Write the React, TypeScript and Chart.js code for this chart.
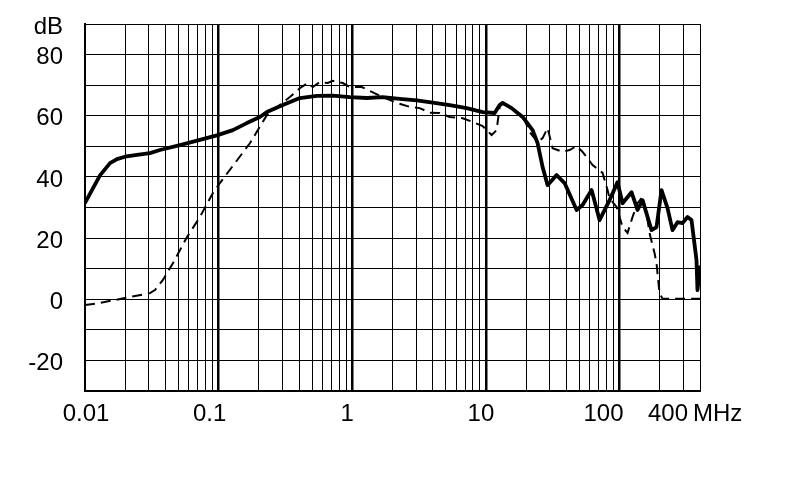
import React, { useEffect, useRef } from 'react';
import { Chart, registerables } from 'chart.js';

Chart.register(...registerables);

// Frequency axis (MHz, logarithmic)
const xMin = 0.01;
const xMax = 400;
const xLabelValues = [0.01, 0.1, 1, 10, 100, 400];
const xLabelTexts = ['0.01', '0.1', '1', '10', '100', '400'];
const xUnit = 'MHz';

// Level axis (dB)
const yMin = -30;
const yMax = 90;
const yGridStep = 10;
const yLabelStep = 20;
const yUnit = 'dB';

// Solid curve
const solidFreq = [
  0.01, 0.01295, 0.01538, 0.01735, 0.0199, 0.02448, 0.03062, 0.03637, 0.05131, 0.0724,
  0.097, 0.1278, 0.1626, 0.2034, 0.2295, 0.3023, 0.405, 0.5429, 0.7149, 0.9579,
  1.284, 1.69, 2.265, 3.035, 3.998, 5.358, 7.181, 9.456, 11.63, 12.67,
  13.34, 15.58, 18.83, 22.36, 24.38, 26.57, 28.95, 33.81, 38.8, 47.72,
  52.89, 61.78, 70.88, 84.19, 96.6, 105.3, 122.9, 136.3, 148.6, 173.5,
  189.1, 206.1, 228.6, 249.1, 271.5, 295.8, 322.5, 345.4, 376.5, 383,
  400,
];
const solidDb = [
  31.5, 40.5, 44.5, 45.8, 46.6, 47.2, 47.8, 48.8, 50.4, 52.1,
  53.6, 55.3, 57.6, 59.6, 61.2, 63.5, 65.8, 66.5, 66.6, 66.1,
  65.8, 66.1, 65.5, 65.0, 64.3, 63.5, 62.5, 61.2, 60.9, 63.5,
  64.2, 62.5, 59.6, 55.3, 51.0, 43.2, 37.3, 40.6, 38.0, 29.2,
  30.8, 35.7, 25.9, 32.4, 38.3, 31.4, 35.0, 29.2, 32.4, 22.6,
  23.6, 35.7, 29.8, 22.6, 25.2, 24.9, 26.9, 25.9, 12.8, 3.0,
  10.5,
];

// Dashed curve
const dashFreq = [
  0.01, 0.01295, 0.0199, 0.03062, 0.03338, 0.0383, 0.04549, 0.05789, 0.0724, 0.09058,
  0.1022, 0.1713, 0.2295, 0.341, 0.405, 0.4649, 0.5068, 0.5715, 0.6559, 0.7149,
  0.8492, 0.9579, 1.178, 1.399, 1.69, 2.151, 2.691, 3.196, 3.796, 4.511,
  5.358, 6.702, 7.961, 9.456, 11.04, 12.03, 12.67, 13.34, 15.58, 19.49,
  21.24, 24.38, 26.57, 28.95, 31.56, 37.49, 42.29, 47.72, 52.89, 62.84,
  74.63, 81.34, 84.19, 95.0, 105.3, 114.8, 125.1, 136.3, 148.6, 159.2,
  167.6, 182.7, 189.1, 199.1, 209.7, 400,
];
const dashDb = [
  -1.9, -1.2, 0.4, 2.0, 3.0, 6.3, 11.8, 20.3, 26.9, 34.7,
  38.0, 51.0, 60.2, 66.1, 69.0, 70.7, 69.4, 71.0, 70.7, 71.4,
  70.7, 69.4, 69.4, 67.8, 66.1, 64.2, 62.9, 62.5, 61.0, 60.9,
  59.6, 59.2, 58.0, 56.6, 53.7, 55.3, 62.9, 64.0, 62.3, 58.6,
  54.7, 51.4, 52.7, 56.0, 49.4, 48.2, 48.8, 50.1, 48.2, 43.9,
  41.3, 35.7, 33.0, 30.2, 23.6, 21.7, 26.9, 31.4, 33.4, 28.2,
  21.7, 15.1, 11.8, 2.0, 0.2, 0.2,
];

const FONT = '"Liberation Sans", Arial, sans-serif';
const xLabelShift = [1, -9, -5, -5, -16, -32];

const xLabelsPlugin = {
  id: 'xLabels',
  afterDraw(chart: any) {
    const ctx = chart.ctx;
    const xs = chart.scales.x;
    const yPix = chart.chartArea.bottom + 23;
    ctx.save();
    ctx.fillStyle = '#000';
    ctx.font = `24px ${FONT}`;
    ctx.textBaseline = 'middle';
    ctx.textAlign = 'center';
    xLabelValues.forEach((v, i) => {
      ctx.fillText(xLabelTexts[i], xs.getPixelForValue(v) + xLabelShift[i], yPix);
    });
    ctx.textAlign = 'left';
    ctx.fillText(xUnit, xs.getPixelForValue(xMax) - 7, yPix);
    ctx.restore();
  },
};

function isDecade(v: number) {
  const l = Math.log10(v);
  return Math.abs(l - Math.round(l)) < 1e-6;
}

export default function App() {
  const ref = useRef<HTMLCanvasElement | null>(null);

  useEffect(() => {
    if (!ref.current) return;
    const chart = new Chart(ref.current, {
      type: 'line',
      data: {
        datasets: [
          {
            data: solidFreq.map((f, i) => ({ x: f, y: solidDb[i] })),
            borderColor: '#000',
            borderWidth: 3.8,
            pointRadius: 0,
            tension: 0,
            borderJoinStyle: 'round',
            borderCapStyle: 'round',
          },
          {
            data: dashFreq.map((f, i) => ({ x: f, y: dashDb[i] })),
            borderColor: '#000',
            borderWidth: 2,
            borderDash: [10, 6],
            pointRadius: 0,
            tension: 0,
          },
        ],
      },
      options: {
        responsive: false,
        animation: false,
        devicePixelRatio: 1,
        layout: { padding: { top: 24, right: 90, left: 0, bottom: 0 } },
        plugins: { legend: { display: false }, tooltip: { enabled: false } },
        scales: {
          x: {
            type: 'logarithmic',
            min: xMin,
            max: xMax,
            afterBuildTicks: (scale: any) => {
              const ticks: any[] = [];
              for (let e = Math.floor(Math.log10(xMin)); e <= Math.ceil(Math.log10(xMax)); e++) {
                for (let s = 1; s <= 9; s++) {
                  const v = parseFloat((s * Math.pow(10, e)).toPrecision(6));
                  if (v >= xMin && v <= xMax) ticks.push({ value: v, major: s === 1 });
                }
              }
              scale.ticks = ticks;
            },
            afterFit: (scale: any) => {
              scale.height = 91;
              scale.paddingLeft = 0;
              scale.paddingRight = 0;
            },
            ticks: { display: false, autoSkip: false },
            grid: {
              color: '#000',
              drawTicks: false,
              lineWidth: (c: any) => {
                const v = c.tick?.value;
                if (v == null) return 1;
                if (v === xMin) return 2;
                return isDecade(v) ? 2.5 : 1;
              },
            },
            border: { display: true, color: '#000', width: 2 },
          },
          y: {
            type: 'linear',
            min: yMin,
            max: yMax,
            afterFit: (scale: any) => {
              scale.width = 85;
              scale.paddingTop = 0;
              scale.paddingBottom = 0;
            },
            ticks: {
              stepSize: yGridStep,
              autoSkip: false,
              color: '#000',
              padding: 22,
              labelOffset: 3,
              font: { family: FONT, size: 24 },
              callback: (v: any) =>
                v === yMax ? yUnit : v % yLabelStep === 0 ? String(v) : '',
            },
            grid: { color: '#000', lineWidth: 1, drawTicks: false },
            border: { display: true, color: '#000', width: 2 },
          },
        },
      },
      plugins: [xLabelsPlugin],
    } as any);
    return () => chart.destroy();
  }, []);

  return (
    <div style={{ position: 'fixed', left: 0, top: 0, width: 790, height: 482, background: '#fff' }}>
      <canvas ref={ref} width={790} height={482} />
    </div>
  );
}
